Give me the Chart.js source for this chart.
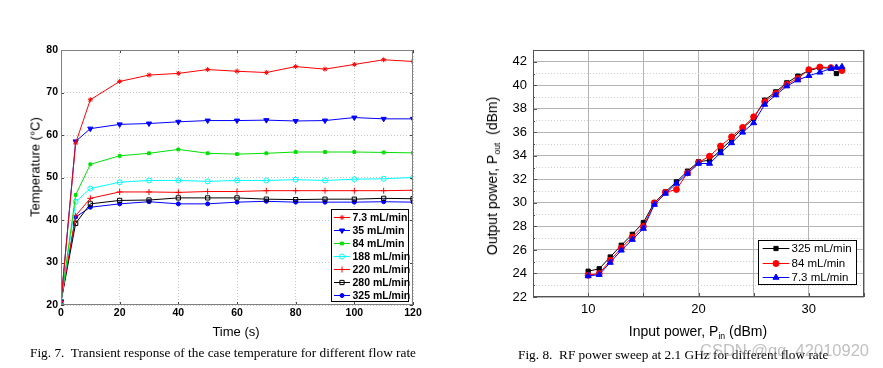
<!DOCTYPE html>
<html>
<head>
<meta charset="utf-8">
<script src="https://cdn.jsdelivr.net/npm/chart.js@4.4.1/dist/chart.umd.min.js"></script>
<style>
  html, body { margin: 0; padding: 0; background: #fff; }
  #wrap { position: relative; width: 883px; height: 368px; overflow: hidden; background: #fff; }
  canvas { position: absolute; top: 0; }
  .t { position: absolute; white-space: nowrap; font-family: "Liberation Sans", Arial, sans-serif; color: #000; line-height: 1; }
  .rot { transform: translate(-50%, -50%) rotate(-90deg); }
  .hc { transform: translate(-50%, -50%); }
  .cap { position: absolute; white-space: nowrap; font-family: "Liberation Serif", "Times New Roman", serif; font-size: 13.3px; color: #000; line-height: 1; transform: translateY(-50%); }
  sub { font-size: 62%; vertical-align: -0.35em; line-height: 0; }
</style>
</head>
<body>
<div id="wrap">
  <canvas id="c1" width="440" height="340" style="left:0px"></canvas>
  <canvas id="c2" width="413" height="340" style="left:470px"></canvas>

  <div class="t rot" style="left:35px; top:167px; font-size:13px;">Temperature (°C)</div>
  <div class="t hc" style="left:236px; top:331px; font-size:13px;">Time (s)</div>
  <div class="cap" style="left:30px; top:353px;">Fig. 7.&nbsp; Transient response of the case temperature for different flow rate</div>

  <div class="t rot" style="left:492px; top:176px; font-size:14px;">Output power, P<sub>out</sub>&nbsp; (dBm)</div>
  <div class="t hc" style="left:698px; top:331px; font-size:14px;">Input power, P<sub>in</sub> (dBm)</div>
  <div class="cap" style="left:518px; top:355px;">Fig. 8.&nbsp; RF power sweep at 2.1 GHz for different flow rate</div>
  <div class="t" style="left:700px; top:342px; font-size:16.5px; color:rgba(150,150,150,0.6);">CSDN @qq_42010920</div>
</div>
<script>
// ---------- Fig. 7 data ----------
const timeS    = [0, 5, 10, 20, 30, 40, 50, 60, 70, 80, 90, 100, 110, 120];
const temp7_3  = [20.8, 58.1, 68.3, 72.6, 74.1, 74.5, 75.4, 75.0, 74.7, 76.1, 75.5, 76.6, 77.7, 77.3];
const temp35   = [20.8, 58.5, 61.5, 62.5, 62.7, 63.1, 63.4, 63.4, 63.5, 63.3, 63.4, 64.1, 63.8, 63.8];
const temp84   = [20.8, 45.9, 53.1, 55.1, 55.7, 56.6, 55.7, 55.5, 55.7, 56.0, 56.0, 56.0, 55.9, 55.8];
const temp188  = [20.8, 44.3, 47.4, 48.9, 49.3, 49.3, 49.1, 49.3, 49.3, 49.5, 49.3, 49.6, 49.7, 50.0];
const temp220  = [20.8, 41.0, 45.1, 46.6, 46.6, 46.5, 46.7, 46.7, 46.9, 46.9, 46.9, 46.9, 46.9, 47.0];
const temp280  = [20.8, 39.2, 43.8, 44.6, 44.7, 45.2, 45.2, 45.2, 44.9, 44.8, 44.9, 44.9, 45.1, 45.0];
const temp325  = [20.8, 40.7, 43.0, 43.8, 44.3, 43.8, 43.8, 44.2, 44.4, 44.2, 44.2, 44.2, 44.3, 44.2];
const fig7Labels = ['7.3 mL/min', '35 mL/min', '84 mL/min', '188 mL/min', '220 mL/min', '280 mL/min', '325 mL/min'];

// ---------- Fig. 8 data ----------
const pinBlack  = [10, 11, 12, 13, 14, 15, 16, 17, 18, 19, 20, 21, 22, 23, 24, 25, 26, 27, 28, 29, 30, 31, 32, 32.5];
const poutBlack = [24.19, 24.4, 25.4, 26.4, 27.33, 28.33, 30.03, 30.94, 31.79, 32.7, 33.5, 33.63, 34.49, 35.4, 36.33, 37.18, 38.74, 39.44, 40.21, 40.78, 41.25, 41.5, 41.45, 41.0];
const pinRed    = [10, 11, 12, 13, 14, 15, 16, 17, 18, 19, 20, 21, 22, 23, 24, 25, 26, 27, 28, 29, 30, 31, 32, 33];
const poutRed   = [23.85, 23.99, 25.12, 26.17, 27.1, 28.0, 30.0, 30.9, 31.14, 32.55, 33.44, 33.97, 34.83, 35.62, 36.42, 37.32, 38.6, 39.31, 40.08, 40.58, 41.33, 41.55, 41.5, 41.25];
const pinBlue   = [10, 11, 12, 13, 14, 15, 16, 17, 18, 19, 20, 21, 22, 23, 24, 25, 26, 27, 28, 29, 30, 31, 32, 32.5, 33];
const poutBlue  = [23.79, 23.9, 24.93, 25.97, 26.88, 27.82, 29.86, 30.8, 31.65, 32.5, 33.35, 33.35, 34.26, 35.1, 36.0, 36.8, 38.37, 39.17, 39.93, 40.44, 40.81, 41.1, 41.43, 41.52, 41.57];
const fig8Labels = ['325 mL/min', '84 mL/min', '7.3 mL/min'];

// ---------- helpers ----------
const xy = (xs, ys) => xs.map((x, i) => ({ x: x, y: ys[i] }));

const framePlugin = {
  id: 'frame',
  afterDraw(chart, args, o) {
    const { ctx, chartArea: a } = chart;
    const xs = chart.scales.x, ys = chart.scales.y;
    ctx.save();
    ctx.lineWidth = 1;
    ctx.strokeStyle = o.tickColor;
    ctx.beginPath();
    xs.ticks.forEach(t => {
      const px = Math.round(xs.getPixelForValue(t.value)) + 0.5;
      ctx.moveTo(px, a.bottom); ctx.lineTo(px, a.bottom - o.tickLen);
      if (o.allSides) { ctx.moveTo(px, a.top); ctx.lineTo(px, a.top + o.tickLen); }
    });
    ys.ticks.forEach(t => {
      const py = Math.round(ys.getPixelForValue(t.value)) + 0.5;
      const len = (o.minorY && Math.round(t.value) % 2 !== 0) ? o.tickLen / 2 : o.tickLen;
      ctx.moveTo(a.left, py); ctx.lineTo(a.left + len, py);
      if (o.allSides) { ctx.moveTo(a.right, py); ctx.lineTo(a.right - len, py); }
    });
    ctx.stroke();
    ctx.strokeStyle = o.color;
    ctx.strokeRect(Math.round(a.left) + 0.5, Math.round(a.top) + 0.5, Math.round(a.right - a.left) - 1, Math.round(a.bottom - a.top) - 1);
    ctx.restore();
  }
};

const boxLegend = {
  id: 'boxLegend',
  afterDraw(chart, args, o) {
    const ctx = chart.ctx;
    ctx.save();
    ctx.fillStyle = '#fff';
    ctx.fillRect(o.x, o.y, o.w, o.h);
    ctx.strokeStyle = '#000';
    ctx.lineWidth = 1;
    ctx.strokeRect(o.x + 0.5, o.y + 0.5, o.w, o.h);
    ctx.font = o.font;
    ctx.textBaseline = 'middle';
    ctx.textAlign = 'left';
    chart.data.datasets.forEach((ds, i) => {
      const cy = Math.round(o.y + o.padTop + o.rowH * (i + 0.5)) + 0.5;
      ctx.strokeStyle = ds.borderColor;
      ctx.lineWidth = ds.borderWidth;
      ctx.beginPath();
      ctx.moveTo(o.x + o.lineX0, cy);
      ctx.lineTo(o.x + o.lineX1, cy);
      ctx.stroke();
      ctx.fillStyle = ds.pointBackgroundColor;
      ctx.strokeStyle = ds.pointBorderColor;
      ctx.lineWidth = ds.pointBorderWidth;
      Chart.helpers.drawPoint(ctx, {
        pointStyle: ds.pointStyle, rotation: ds.pointRotation || 0,
        radius: ds.pointRadius, borderWidth: ds.pointBorderWidth
      }, o.x + (o.lineX0 + o.lineX1) / 2, cy);
      ctx.fillStyle = '#000';
      ctx.fillText(ds.label, o.x + o.textX, cy + 0.5);
    });
    ctx.restore();
  }
};

function ds(label, data, color, style, radius, fill, rot, order) {
  return {
    label: label, data: data, borderColor: color, borderWidth: 1,
    pointStyle: style, pointRadius: radius, pointHoverRadius: radius,
    pointRotation: rot || 0, pointBackgroundColor: fill, pointBorderColor: color,
    pointBorderWidth: 1, tension: 0, fill: false, order: order || 0
  };
}

// ---------- Fig. 7 chart ----------
const tickFont7 = { family: '"Liberation Sans", Arial, sans-serif', size: 10.5, weight: 'bold' };
new Chart(document.getElementById('c1'), {
  type: 'line',
  data: {
    datasets: [
      ds(fig7Labels[0], xy(timeS, temp7_3), '#ff0000', 'star', 2.5, '#ff0000'),
      ds(fig7Labels[1], xy(timeS, temp35), '#0000ff', 'triangle', 3, '#0000ff', 180),
      ds(fig7Labels[2], xy(timeS, temp84), '#00e000', 'rect', 2, '#00e000'),
      ds(fig7Labels[3], xy(timeS, temp188), '#00ffff', 'circle', 2.5, 'rgba(0,0,0,0)'),
      ds(fig7Labels[4], xy(timeS, temp220), '#ff0000', 'cross', 3, '#ff0000'),
      ds(fig7Labels[5], xy(timeS, temp280), '#000000', 'rect', 3, 'rgba(0,0,0,0)'),
      ds(fig7Labels[6], xy(timeS, temp325), '#0000ff', 'circle', 2, '#0000ff')
    ]
  },
  options: {
    responsive: false, animation: false, devicePixelRatio: 1,
    layout: { padding: { top: 50, right: 27, left: 0, bottom: 0 } },
    plugins: {
      legend: { display: false }, tooltip: { enabled: false },
      frame: { color: '#808080', tickColor: '#444', tickLen: 3, allSides: true },
      boxLegend: {
        x: 331, y: 209, w: 77, h: 92, padTop: 1.8, rowH: 12.95,
        lineX0: 3, lineX1: 19, textX: 21.5,
        font: 'bold 10.5px "Liberation Sans", Arial, sans-serif'
      }
    },
    scales: {
      x: {
        type: 'linear', min: 0, max: 120,
        ticks: { stepSize: 20, font: tickFont7, color: '#000', padding: 2, maxRotation: 0 },
        grid: { color: '#c4c4c4', drawTicks: false },
        border: { display: false, dash: [1, 2] },
        afterFit: s => { s.height = 35; }
      },
      y: {
        min: 20, max: 80,
        ticks: { stepSize: 10, font: tickFont7, color: '#000', padding: 3 },
        grid: { color: '#c4c4c4', drawTicks: false },
        border: { display: false, dash: [1, 2] },
        afterFit: s => { s.width = 61; }
      }
    }
  },
  plugins: [framePlugin, boxLegend]
});

// ---------- Fig. 8 chart ----------
const tickFont8 = { family: '"Liberation Sans", Arial, sans-serif', size: 13 };
new Chart(document.getElementById('c2'), {
  type: 'line',
  data: {
    datasets: [
      ds(fig8Labels[0], xy(pinBlack, poutBlack), '#000000', 'rect', 3, '#000000', 0, 2),
      ds(fig8Labels[1], xy(pinRed, poutRed), '#ff0000', 'circle', 3, '#ff0000', 0, 1),
      ds(fig8Labels[2], xy(pinBlue, poutBlue), '#0000ff', 'triangle', 3.5, '#0000ff', 0, 0)
    ]
  },
  options: {
    responsive: false, animation: false, devicePixelRatio: 1,
    layout: { padding: { top: 50, right: 19, left: 0, bottom: 0 } },
    plugins: {
      legend: { display: false }, tooltip: { enabled: false },
      frame: { color: '#555', tickColor: '#555', tickLen: 4, allSides: false, minorY: true },
      boxLegend: {
        x: 288, y: 240, w: 98, h: 44, padTop: 1.2, rowH: 14.2,
        lineX0: 4.7, lineX1: 31.3, textX: 33.5,
        font: '11.5px "Liberation Sans", Arial, sans-serif'
      }
    },
    scales: {
      x: {
        type: 'linear', min: 5, max: 35,
        ticks: {
          stepSize: 5, font: tickFont8, color: '#000', padding: 5, maxRotation: 0, autoSkip: false,
          callback: v => (v % 10 === 0 ? String(v) : '')
        },
        grid: { color: '#b4b4b4', drawTicks: false },
        border: { display: false },
        afterFit: s => { s.height = 43; }
      },
      y: {
        min: 22, max: 43,
        ticks: {
          stepSize: 1, font: tickFont8, color: '#000', padding: 6, autoSkip: false,
          callback: v => (v % 2 === 0 ? String(v) : '')
        },
        grid: {
          drawTicks: false,
          color: c => (c.tick && Math.round(c.tick.value) % 2 !== 0 ? '#cfcfcf' : '#b4b4b4')
        },
        border: {
          display: false,
          dash: c => (c && c.tick && Math.round(c.tick.value) % 2 !== 0 ? [1, 2] : [])
        },
        afterFit: s => { s.width = 63; }
      }
    }
  },
  plugins: [framePlugin, boxLegend]
});
</script>
</body>
</html>
